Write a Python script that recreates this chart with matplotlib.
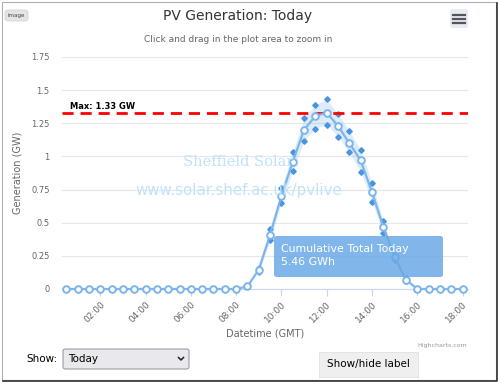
import matplotlib.pyplot as plt
from matplotlib.patches import FancyBboxPatch, Rectangle
import numpy as np

# half-hourly settlement periods, 00:30 .. 18:00
hours = np.arange(0.5, 18.01, 0.5)
gen = [0, 0, 0, 0, 0, 0, 0, 0, 0, 0, 0, 0, 0, 0, 0, 0,
       0.02, 0.145, 0.41, 0.70, 0.96, 1.20, 1.305, 1.33, 1.23, 1.10,
       0.97, 0.73, 0.47, 0.24, 0.07,
       0, 0, 0, 0, 0]
nan = np.nan
upper = [nan] * 17 + [0.16, 0.45, 0.76, 1.03, 1.29, 1.39, 1.43, 1.32, 1.19,
                      1.05, 0.80, 0.51, 0.26, 0.08] + [nan] * 5
lower = [nan] * 17 + [0.13, 0.37, 0.65, 0.89, 1.12, 1.21, 1.24, 1.15, 1.03,
                      0.885, 0.66, 0.42, 0.22, 0.06] + [nan] * 5
max_gen = 1.33
total = 5.46
xtick_hours = [2, 4, 6, 8, 10, 12, 14, 16, 18]
yticks = [0, 0.25, 0.5, 0.75, 1, 1.25, 1.5, 1.75]

blue = '#7cb5ec'
dark = '#4a94e0'
grey = '#666666'

fig = plt.figure(figsize=(5, 3.83), dpi=100)
W, H = 500, 383

def fx(px):
    return px / W

def fy(py):
    return 1 - py / H

ax = fig.add_axes([fx(62), fy(289), fx(468) - fx(62), fy(57) - fy(289)])

# confidence band + bounds
ax.fill_between(hours, lower, upper, color=blue, alpha=0.25, lw=0, zorder=1)
ax.plot(hours, upper, ls='none', marker='D', ms=2.8, color=dark, zorder=2)
ax.plot(hours, lower, ls='none', marker='D', ms=2.8, color=dark, zorder=2)

# generation
ax.plot(hours, gen, color=blue, lw=1.6, marker='o', ms=4.8,
        mfc='white', mec=blue, mew=1.4, zorder=4, clip_on=False)

# max line
ax.axhline(max_gen, color='#ff0000', lw=2, ls=(0, (4, 2.5)), zorder=3)
ax.text(0.66, max_gen + 0.012, f'Max: {max_gen} GW', fontsize=6,
        fontweight='bold', color='black', ha='left', va='bottom')

ax.set_xlim(0.31, 18.24)
ax.set_ylim(0, 1.75)
ax.set_yticks(yticks)
ax.set_yticklabels(['0', '0.25', '0.5', '0.75', '1', '1.25', '1.5', '1.75'])
ax.set_xticks(xtick_hours)
ax.set_xticklabels([f'{h:02d}:00' for h in xtick_hours], rotation=45,
                   ha='right', va='top', rotation_mode='anchor')
ax.grid(axis='y', color='#e6e6e6', lw=0.8)
ax.set_axisbelow(True)
for s in ['top', 'right', 'left']:
    ax.spines[s].set_visible(False)
ax.spines['bottom'].set_color('#ccd6eb')
ax.spines['bottom'].set_linewidth(0.8)
ax.tick_params(axis='y', length=0, labelsize=6, labelcolor=grey, pad=9)
ax.tick_params(axis='x', length=5, color='#ccd6eb', labelsize=6.5,
               labelcolor=grey, pad=3)
ax.set_ylabel('Generation (GW)', fontsize=7, color=grey)
ax.yaxis.set_label_coords(-0.0985, 0.5)
ax.set_xlabel('Datetime (GMT)', fontsize=7, color=grey, labelpad=3)

# watermark
fig.text(fx(238), fy(162), 'Sheffield Solar', fontsize=10.5,
         family='DejaVu Serif', color='#bfe3fa', ha='center', va='center', zorder=0)
fig.text(fx(239), fy(190), 'www.solar.shef.ac.uk/pvlive',
         fontsize=10.8, color='#bfe3fa', ha='center', va='center', zorder=0)

# tooltip-like label
box = FancyBboxPatch((fx(274), fy(277)), fx(443) - fx(274), fy(236) - fy(277),
                     boxstyle='round,pad=0,rounding_size=0.006',
                     transform=fig.transFigure, fc='#6aa9e6', ec='none',
                     alpha=0.85, zorder=5)
fig.patches.append(box)
fig.text(fx(281), fy(249), 'Cumulative Total Today', fontsize=7.9,
         color='white', va='center', zorder=6)
fig.text(fx(281), fy(262), f'{total} GWh', fontsize=7.9, color='white',
         va='center', zorder=6)

# titles
fig.text(fx(238), fy(16), 'PV Generation: Today', fontsize=10,
         color='#333333', ha='center', va='center')
fig.text(fx(238), fy(39), 'Click and drag in the plot area to zoom in',
         fontsize=6.5, color=grey, ha='center', va='center')
fig.text(fx(467), fy(345), 'Highcharts.com', fontsize=4.5, color='#999999',
         ha='right', va='center')

# page chrome: frame, badge, menu button, controls
fig.patches.append(Rectangle((fx(2), fy(380)), fx(496) - fx(2), fy(2) - fy(380),
                             transform=fig.transFigure, fill=False,
                             ec='#b0b0b0', lw=0.8))
fig.add_artist(plt.Line2D([fx(3), fx(497), fx(497)], [fy(381), fy(381), fy(3)],
                          transform=fig.transFigure, color='#333333', lw=1.2))
fig.patches.append(FancyBboxPatch((fx(5), fy(21)), fx(23), fy(10) - fy(21),
                                  boxstyle='round,pad=0,rounding_size=0.006',
                                  transform=fig.transFigure, fc='#e4e4e4',
                                  ec='#d0d0d0', lw=0.5))
fig.text(fx(16.5), fy(15.5), 'image', fontsize=4, color='#444444',
         ha='center', va='center')
fig.patches.append(FancyBboxPatch((fx(450), fy(28)), fx(18), fy(9) - fy(28),
                                  boxstyle='round,pad=0,rounding_size=0.006',
                                  transform=fig.transFigure, fc='#e6ebf5',
                                  ec='none'))
for yy in [14.5, 18.5, 22.5]:
    fig.add_artist(plt.Line2D([fx(453), fx(465)], [fy(yy), fy(yy)],
                              transform=fig.transFigure, color='#555555', lw=1.6))

fig.text(fx(26), fy(359), 'Show:', fontsize=7.5, color='black', va='center')
fig.patches.append(FancyBboxPatch((fx(63), fy(369)), fx(126), fy(349) - fy(369),
                                  boxstyle='round,pad=0,rounding_size=0.005',
                                  transform=fig.transFigure, fc='#e9e9ed',
                                  ec='#8f8f9d', lw=0.7))
fig.text(fx(68), fy(359), 'Today', fontsize=7.5, color='black', va='center')
fig.add_artist(plt.Line2D([fx(178.5), fx(181), fx(183.5)],
                          [fy(357.5), fy(360), fy(357.5)],
                          transform=fig.transFigure, color='#222222', lw=1.1))
fig.patches.append(Rectangle((fx(319), fy(377)), fx(99), fy(352) - fy(377),
                             transform=fig.transFigure, fc='#efefef',
                             ec='#dddddd', lw=0.5))
fig.text(fx(368), fy(364), 'Show/hide label', fontsize=7.5, color='black',
         ha='center', va='center')

fig.savefig('out.png', dpi=100)
